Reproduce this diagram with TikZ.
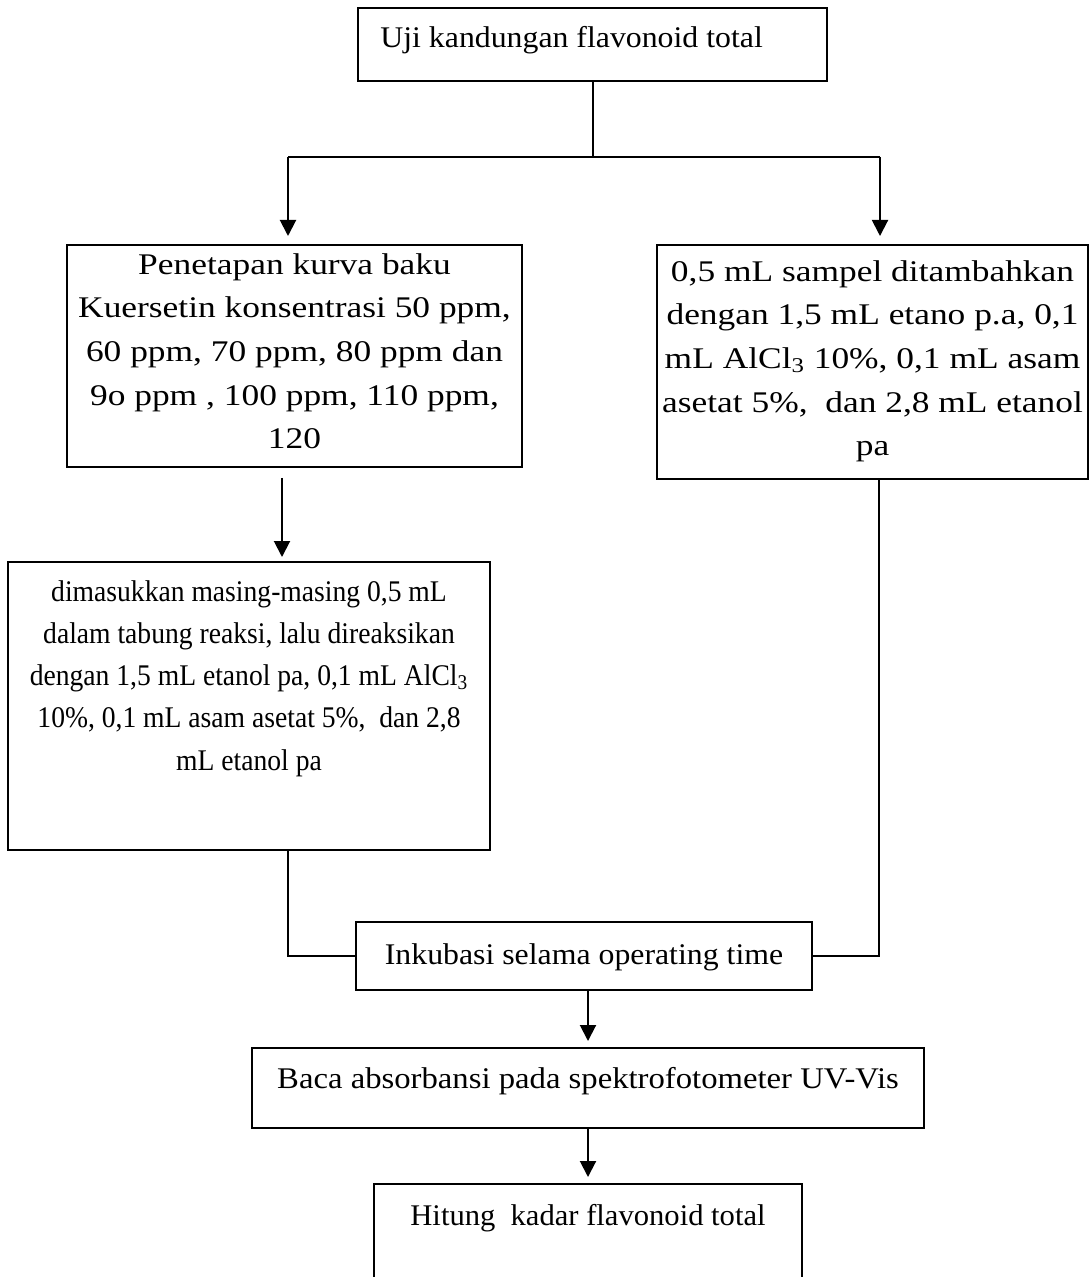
\documentclass[tikz,border=0pt]{standalone}
\usepackage{fontspec}
\setmainfont{Liberation Serif}
\newfontfamily\fstop[FakeStretch=1.06]{Liberation Serif}
\newfontfamily\fsbone[FakeStretch=1.18]{Liberation Serif}
\newfontfamily\fsrone[FakeStretch=1.18]{Liberation Serif}
\newfontfamily\fsbtwo[FakeStretch=0.92]{Liberation Serif}
\newfontfamily\fsink[FakeStretch=1.06]{Liberation Serif}
\newfontfamily\fsbaca[FakeStretch=1.09]{Liberation Serif}
\newfontfamily\fshit[FakeStretch=1.02]{Liberation Serif}
\usetikzlibrary{arrows.meta}
\begin{document}
\begin{tikzpicture}[x=0.5pt,y=-0.5pt,
  box/.style={draw, line width=1pt, inner sep=0pt, rectangle},
  txt/.style={inner sep=0pt, align=center, font=\fontsize{15}{21.8}#1\selectfont, execute at begin node={\rule{0pt}{11pt}}},
  txtsm/.style={inner sep=0pt, align=center, font=\fontsize{15}{21.1}#1\selectfont, execute at begin node={\rule{0pt}{11pt}}},
  conn/.style={line width=1pt},
  arr/.style={line width=1pt, -{Triangle[width=8pt,length=8pt]}}]
\useasboundingbox (0,0) rectangle (1089,1277);
\fill[white] (0,0) rectangle (1089,1277);
\clip (0,0) rectangle (1089,1277);

% boxes
\node[box, minimum width=234.5pt, minimum height=36.5pt] (top) at (592.5,44.5) {};
\node[box, minimum width=227.5pt, minimum height=111pt] (b1) at (294.5,356) {};
\node[box, minimum width=215.5pt, minimum height=117pt] (r1) at (872.5,362) {};
\node[box, minimum width=241pt, minimum height=144pt] (b2) at (249,706) {};
\node[box, minimum width=228pt, minimum height=34pt] (ink) at (584,956) {};
\node[box, minimum width=336pt, minimum height=40pt] (baca) at (588,1088) {};
\node[box, minimum width=214pt, minimum height=58pt] (hit) at (588,1242) {};

% texts
\node[txt=\fstop, anchor=base west] (toptxt) at (380,48) {Uji kandungan flavonoid total};
\node[txt=\fsbone, anchor=north] (b1txt) at (294.5,253) {Penetapan kurva baku\\Kuersetin konsentrasi 50 ppm,\\60 ppm, 70 ppm, 80 ppm dan\\9o ppm , 100 ppm, 110 ppm,\\120};
\node[txt=\fsrone, anchor=north] (r1txt) at (872.5,260) {0,5 mL sampel ditambahkan\\dengan 1,5 mL etano p.a, 0,1\\mL AlCl\textsubscript{3} 10\%, 0,1 mL asam\\asetat 5\%,~ dan 2,8 mL etanol\\pa};
\node[txtsm=\fsbtwo, anchor=north] (b2txt) at (249,580) {dimasukkan masing-masing 0,5 mL\\dalam tabung reaksi, lalu direaksikan\\dengan 1,5 mL etanol pa, 0,1 mL AlCl\textsubscript{3}\\10\%, 0,1 mL asam asetat 5\%,~ dan 2,8\\mL etanol pa};
\node[txt=\fsink, anchor=base] (inktxt) at (584,964) {Inkubasi selama operating time};
\node[txt=\fsbaca, anchor=base] (bacatxt) at (588,1088) {Baca absorbansi pada spektrofotometer UV-Vis};
\node[txt=\fshit, anchor=base] (hittxt) at (588,1225) {Hitung~ kadar flavonoid total};

% connectors
\coordinate (jm) at (592.5,157);
\coordinate (jl) at (288,157);
\coordinate (jr) at (880,157);
\coordinate (a1) at (282,478);
\coordinate (lx) at (288,958);
\coordinate (rx) at (879,958);

\draw[conn] (top.south) -- (jm);
\draw[conn] (jl) -- (jr);
\draw[arr, shorten >=4pt] (jl) -- (jl |- b1.north);
\draw[arr, shorten >=4pt] (jr) -- (jr |- r1.north);
\draw[arr, shorten >=2pt] (a1) -- (a1 |- b2.north);
\draw[conn] (lx |- b2.south) |- (ink.west);
\draw[conn] (rx |- r1.south) |- (ink.east);
\draw[arr, shorten >=3pt] (baca.north |- ink.south) -- (baca.north);
\draw[arr, shorten >=3pt] (baca.south) -- (hit.north);
\end{tikzpicture}
\end{document}
